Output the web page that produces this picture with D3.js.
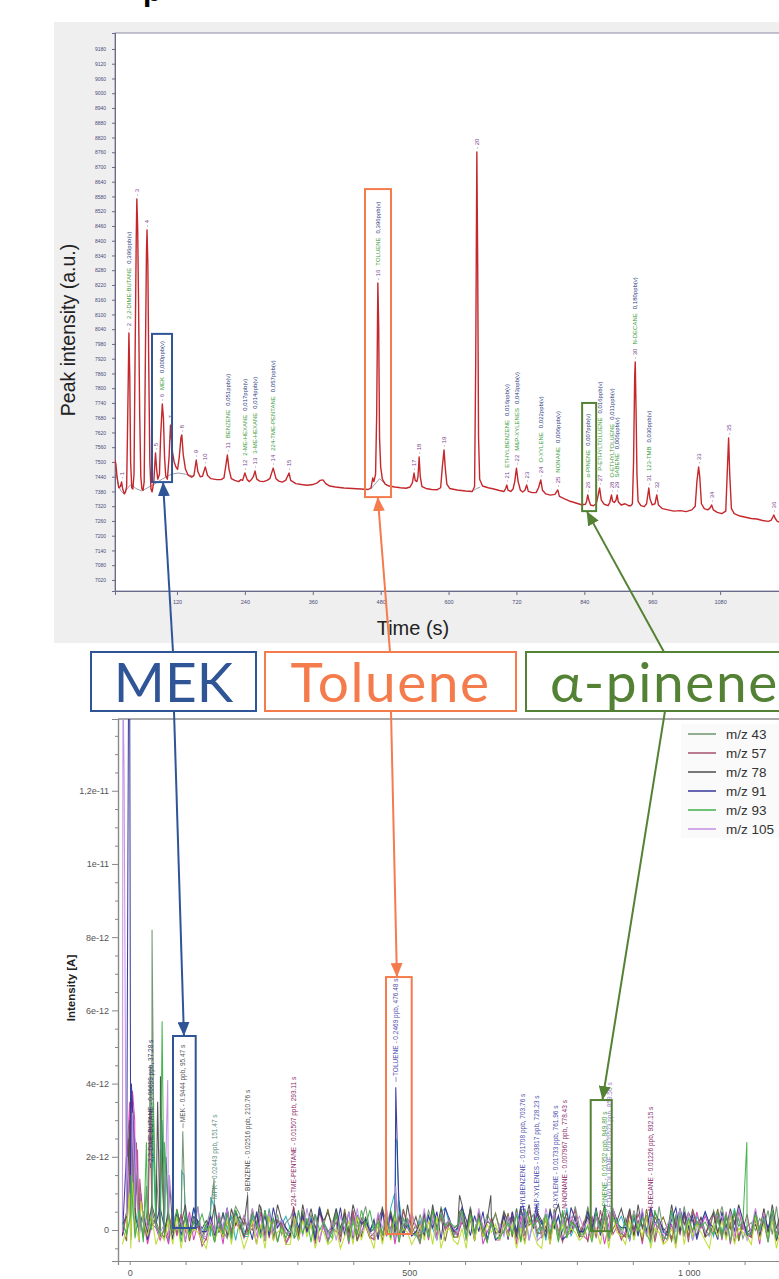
<!DOCTYPE html>
<html><head><meta charset="utf-8">
<script src="https://cdn.jsdelivr.net/npm/d3@7/dist/d3.min.js"></script>
<style>
html,body{margin:0;padding:0;background:#fff;}
svg{display:block;font-family:"Liberation Sans",Arial,sans-serif;}
</style></head>
<body>
<svg id="chart" width="779" height="1279"></svg>
<script>
// ================= DATA =================
// --- top chromatogram ---
const topYTicks=[7020,7080,7140,7200,7260,7320,7380,7440,7500,7560,7620,7680,7740,7800,7860,7920,7980,8040,8100,8160,8220,8280,8340,8400,8460,8520,8580,8640,8700,8760,8820,8880,8940,9000,9060,9120,9180];
const topXTicks=[120,240,360,480,600,720,840,960,1080];
const topTrace=[[10.4,7508],[12,7490],[14,7440],[17,7395],[20,7400],[22,7419],[24,7390],[27,7370],[29,7378],
[31,7400],[33,7700],[35,8025],[36.5,7850],[38,7500],[40,7395],[42,7390],
[44,7450],[46,7950],[48,8420],[49,8570],[50.5,8450],[52,8150],[54,7700],[56,7440],[58,7390],[60,7385],
[62,7420],[64,7900],[66,8350],[67,8444],[68.5,8300],[70,7900],[72,7500],[74,7390],[76,7378],
[79,7420],[82,7537],[84,7470],[86,7430],[89,7450],[91,7600],[94,7736],[96,7680],[98,7520],[100,7445],[103,7430],
[106,7520],[108.5,7650],[110,7600],[112,7540],[115,7500],[118,7480],[121,7470],
[124,7520],[127,7600],[128.5,7610],[131,7530],[135,7470],[140,7445],[146,7438],[150,7445],
[154,7508],[157,7460],[161,7440],[165,7442],[170,7480],[174,7445],[180,7432],[190,7428],[198,7428],
[203,7435],[206,7480],[209,7528],[212,7470],[216,7432],[222,7425],[229,7420],[233,7428],[236,7425],
[240,7455],[244,7428],[248,7420],[252,7430],[255,7440],[258,7463],[261,7430],[266,7422],[273,7420],[279,7425],[284,7432],
[290,7475],[295,7432],[300,7422],[306,7418],[312,7425],[315,7440],[318,7455],[321,7425],[330,7412],[340,7408],[350,7405],[360,7408],
[368,7415],[373,7425],[378,7427],[383,7412],[390,7402],[400,7398],[415,7394],[430,7392],[445,7390],[458,7388],
[463,7395],[466,7435],[468,7420],[471,7450],[473,7700],[475,8228],[476.5,8050],[478,7600],[480,7480],[483,7430],[488,7410],[495,7402],
[505,7398],[515,7395],[525,7393],[532,7398],[536,7415],[539,7455],[541,7425],[544,7420],[546,7440],[548,7520],[550,7440],[553,7400],
[560,7392],[570,7388],[580,7387],[586,7395],[589,7480],[592,7549],[594,7480],[597,7410],[602,7392],[615,7386],[630,7382],[642,7380],
[646,7400],[648,7900],[650,8761],[651.5,8300],[653,7600],[655,7430],[660,7402],[670,7395],[680,7390],[690,7384],[698,7380],
[701,7392],[703,7406],[705,7385],[710,7380],[714,7390],[717,7420],[720,7475],[723,7420],[727,7385],[731,7378],[735,7385],[738,7406],[741,7380],
[748,7375],[755,7376],[759,7395],[763,7427],[766,7385],[772,7370],[780,7365],[788,7368],[793,7386],[796,7360],[805,7350],
[815,7340],[825,7333],[835,7326],[842,7328],[844,7340],[846,7366],[848,7345],[851,7325],[856,7322],[861,7330],[864,7360],[867,7394],[870,7345],[875,7328],[882,7322],
[885,7335],[888,7366],[890,7340],[893,7335],[896,7345],[898,7366],[900,7338],[905,7325],[912,7330],[918,7322],[922,7322],[925,7330],
[927,7500],[929,7850],[930,7907],[931.5,7700],[933,7450],[935,7340],[940,7322],[946,7318],[950,7330],[954,7394],[956,7350],[960,7325],[965,7330],[968,7366],[971,7325],[978,7310],
[988,7305],[998,7300],[1010,7302],[1020,7298],[1030,7305],[1036,7320],[1039,7420],[1042,7480],[1044,7440],[1047,7330],[1052,7310],[1058,7305],
[1062,7312],[1065,7325],[1068,7305],[1075,7295],[1083,7290],[1090,7300],[1092,7420],[1095,7598],[1097,7450],[1100,7310],[1105,7290],
[1115,7280],[1125,7275],[1135,7270],[1145,7268],[1155,7262],[1165,7258],[1170,7262],[1173,7275],[1175,7284],[1177,7272],[1181,7258],[1190,7252],[1200,7248]];
const topBaselines=[
 [[12,7460],[16,7410],[20,7385],[26,7370],[33,7395],[40,7410],[47,7392],[58,7382],[68,7395],[80,7410],[95,7432],[110,7450],[122,7455],[135,7450],[150,7442]],
 [[462,7388],[470,7410],[478,7432],[486,7415],[492,7402]],
 [[645,7385],[650,7392],[656,7398]]
];
const peakTimes=[22,35,49,67,82,94,109,128,154,170,209,240,258,290,318,475,539,548,592,650,703,720,738,763,793,846,867,889,898,930,954,968,1042,1065,1095,1175];
const peakValues=[7419,8025,8570,8444,7537,7736,7650,7610,7508,7480,7528,7455,7463,7475,7455,8228,7455,7520,7549,8761,7406,7475,7406,7427,7386,7366,7394,7366,7366,7907,7394,7366,7480,7325,7598,7284];
const peakNames=["","2,2-DIME-BUTANE","","","","MEK","","","","","BENZENE","2-ME-HEXANE","3-ME-HEXANE","224-TME-PENTANE","","TOLUENE","","","","","ETHYLBENZENE","M&P-XYLENES","","O-XYLENE","NONANE","α-PINENE","P-ETHYLTOLUENE","O-ETHYLTOLUENE","SABENE","N-DECANE","123-TMB","","","","",""];
const peakConc=["","0,396ppb(v)","","","","0,000ppb(v)","","","","","0,051ppb(v)","0,017ppb(v)","0,014ppb(v)","0,057ppb(v)","","0,396ppb(v)","","","","","0,016ppb(v)","0,043ppb(v)","","0,022ppb(v)","0,006ppb(v)","0,007ppb(v)","0,016ppb(v)","0,011ppb(v)","0,006ppb(v)","0,180ppb(v)","0,030ppb(v)","","","","",""];

// --- bottom ion traces (values in units of 1e-12 A) ---
const botYTicks=[0,2,4,6,8,10,12];
const botYLabels=["0","2e-12","4e-12","6e-12","8e-12","1e-11","1,2e-11"];
const botYMinor=[-0.5,0.5,1,1.5,2.5,3,3.5,4.5,5,5.5,6.5,7,7.5,8.5,9,9.5,10.5,11,11.5,12.5,13,13.5];
const botXTicks=[0,100,200,300,400,500,600,700,800,900,1000,1100];
const botXLabels=["0","","","","","500","","","","","1 000",""];
const ionNames=["m/z 43","m/z 57","m/z 78","m/z 91","m/z 93","m/z 105","m/z 106","m/z 120","m/z 136","m/z 134"];
const ionColors=["#6e9470","#a5506f","#4d4d4d","#34349a","#3fb24a","#c28fe3","#27aebd","#b9dc2c","#d13fb4","#7b6a1f"];
const ionOffsets=[0.15,0.05,0.2,0.12,0.05,0.1,0.1,-0.12,0.0,0.08];
// baseline noise read as digits (0..9) every 7.5 s from -13 s
const noiseStart=-13, noiseStep=7.5, noiseUnit=0.11;
const ionNoise=[
"5273914862 3718462590 4826315973 2649381725 6138472950 3827164593 5192837464 2738519462 4619283757 3846192573 5728136494 2937461851 6384725193 4172938563 2859473614 5364829173",
"3847162953 6293817450 2718364952 5483927161 3927458163 4618293752 2836471958 5173928464 3649285173 4827361959 2538417693 6172948352 3948572161 4263819573 5837261948 2946183752",
"4618372951 2837491653 5392718464 3748162953 2619483757 4837295162 3584726193 6271938453 4938271562 2756184937 5183947262 3627491858 4819362753 2938475161 5726384952 3418293765",
"2947381659 4618273953 3726491852 5183729464 2847361953 4392817563 6183749252 3527481963 4962738151 2718394657 5384712963 3849261754 4172839563 2693847158 5418273962 3827461595",
"6382917453 2749183658 4517382963 3862947152 5293718464 2847163959 4638291753 3172948565 5928374162 2463819757 4837192653 3519482764 6284731952 2918374656 4372819563 3847192658",
"3719284653 5284617392 2638491757 4927183563 3582947162 6174829353 2849371658 4392718564 3817294652 5273849161 2948163757 4627381953 3184927562 5739281463 2467382951 4938172654",
"4829371652 3167482953 5293847162 2748193657 4618372951 3927481563 5482917363 2637418952 4819273654 3572948162 6184739252 2938471657 4172839563 3849261758 5283749162 2736481954",
"2617384925 3829174653 1736482951 4827193562 2938471652 3614829374 1827394652 4738291563 2619384757 3847162952 1928374653 4736281954 2837491652 3619284753 1748392654 2937481652",
"3928471652 5183749263 2847193658 4619382751 3728461952 5837192463 2493817653 4182739564 3857291462 2649183757 5718293463 3284716952 4937182653 2618374958 5482917363 3719482651",
"4173829563 2839471652 5618293747 3947182653 2738461959 4829371562 3617482953 5283947162 2947183658 4382917563 3719284652 5927381463 2846193757 4173829562 3592748163 2849371656"];
// peaks: [time s, intensity 1e-12 A]
const ionPeaks=[
 [[-3,1.5],[0,2.8],[4,2.2],[10,1.8],[30,1.2],[37,4.5],[40,8.2],[43,3.0],[48,1.5],[95,2.7],[151,1.4],[294,0.6]],
 [[-2,2.5],[2,3.6],[6,3.2],[12,2.4],[18,1.4],[37,3.3],[55,2.2],[293,0.65],[932,0.55]],
 [[0,3.0],[5,2.5],[12,1.5],[50,3.5],[55,4.2],[72,1.2],[211,0.95],[232,0.7],[590,0.95],[646,0.95],[762,0.5]],
 [[-6,2],[-2,15],[0,15],[3,4],[8,2.4],[65,2.0],[476,3.9],[480,1.5],[704,0.65],[728,0.7]],
 [[2,1.5],[30,2.4],[42,3.5],[58,5.7],[62,2.4],[850,0.6],[1104,2.4]],
 [[-12,15],[-10,12.5],[-7,3],[-4,2],[5,3.2],[10,2.5],[68,4.1],[71,1.5],[476,1.2],[860,0.45]],
 [[0,2.5],[8,2],[40,3],[58,3.0],[93,1.6],[97,1.5],[145,0.9],[474,1.0],[476,2.5],[478,2.4],[482,0.8]],
 [[0,1.0],[5,1.3],[20,0.8]],
 [[-4,2.2],[0,3.5],[5,3.8],[9,3.0],[14,2.2],[20,1.0]],
 [[0,2.0],[6,2.8],[12,1.5],[476,1.0],[590,0.5]]
];
// compound annotations of the lower chart
const annoTimes=[37.28,95.47,151.47,210.76,293.11,476.48,703.76,728.23,761.96,778.43,849.80,859.56,932.15];
const annoStart=[1.83,2.92,0.82,1.04,0.63,4.18,0.36,0.46,0.55,0.55,0.46,0.41,0.49];
const annoTexts=["2,2-DIME-BUTANE - 0.06699 ppb, 37.28 s","MEK - 0.9444 ppb, 95.47 s","MPK - 0.02443 ppb, 151.47 s","BENZENE - 0.02516 ppb, 210.76 s","224-TME-PENTANE - 0.01507 ppb, 293.11 s","TOLUENE - 0.2469 ppb, 476.48 s","ETHYLBENZENE - 0.01708 ppb, 703.76 s","M&P-XYLENES - 0.03817 ppb, 728.23 s","O-XYLENE - 0.01733 ppb, 761.96 s","N-NONANE - 0.007967 ppb, 778.43 s","α-PINENE - 0.01352 ppb, 849.80 s","P-ETHYLTOLUENE - 0.005523 ppb, 859.56 s","N-DECANE - 0.01226 ppb, 932.15 s"];
const annoColors=["#3a3a70","#555555","#5a8f80","#555555","#8b2d6b","#5050b0","#5050b0","#5050b0","#5050b0","#8b2d6b","#3aa03a","#a080d0","#8b2d6b"];

// highlighted compounds
const hiNames=["MEK","Toluene","α-pinene"];
const hiColors=["#2f5597","#f47b4c","#548235"];
const hiTopBox=[[75.8,111.2,7418,8021],[452.3,498.3,7357,8610],[836.1,860.9,7300,7740]];
const hiTopTip=[95.4,475,845];
const hiBotBox=[[77.5,118.1,0.055,5.30],[458.5,504.5,-0.11,6.91],[824.7,862.3,-0.03,3.55]];
const hiBotTip=[97,478,846];

// ================= DRAW =================
const W=779,H=1279;
const svg=d3.select("#chart");
const defs=svg.append("defs");

// cut-off title glyph at top (the reference shows only its lower part)
svg.append("text").attr("x",143).attr("y",1).attr("font-size",30).attr("font-weight","bold").attr("fill","#000").text("p");

// ---------- TOP PANEL ----------
const tL=115,tT=33,tB=591;
svg.append("rect").attr("x",54).attr("y",22).attr("width",W-54).attr("height",621).attr("fill","#efefef");
const tx=d3.scaleLinear().domain([10.4,1200]).range([tL,788]);
const ty=d3.scaleLinear().domain([6975,9245]).range([tB,tT]);
svg.append("rect").attr("x",tL).attr("y",tT).attr("width",W-tL+5).attr("height",tB-tT).attr("fill","#fff").attr("stroke","#8a8aa8").attr("stroke-width",1);
defs.append("clipPath").attr("id","clipTop").append("rect").attr("x",tL).attr("y",tT).attr("width",W-tL).attr("height",tB-tT);

const gyA=svg.append("g").attr("transform",`translate(${tL},0)`)
 .call(d3.axisLeft(ty).tickValues(topYTicks).tickSize(3).tickPadding(6).tickFormat(d=>d));
gyA.select(".domain").attr("stroke","#6a6a8a");
gyA.selectAll(".tick line").attr("stroke","#6a6a8a");
gyA.selectAll(".tick text").attr("font-size",5).attr("fill","#4a4a78").attr("font-family","Liberation Sans, Arial");
const gxA=svg.append("g").attr("transform",`translate(0,${tB})`)
 .call(d3.axisBottom(tx).tickValues(topXTicks).tickSize(4).tickPadding(5).tickFormat(d=>d));
gxA.select(".domain").attr("stroke","#6a6a8a");
gxA.selectAll(".tick line").attr("stroke","#6a6a8a");
gxA.selectAll(".tick text").attr("font-size",5.5).attr("fill","#4a4a78").attr("font-family","Liberation Sans, Arial");

svg.append("text").attr("transform","translate(75,330) rotate(-90)").attr("text-anchor","middle")
 .attr("font-size",19.5).attr("fill","#222").text("Peak intensity (a.u.)");
svg.append("text").attr("x",413).attr("y",635).attr("text-anchor","middle")
 .attr("font-size",20).attr("fill","#222").text("Time (s)");

const gTop=svg.append("g").attr("clip-path","url(#clipTop)");
const tLine=d3.line().x(d=>tx(d[0])).y(d=>ty(d[1]));
topBaselines.forEach(b=>gTop.append("path").attr("d",tLine(b)).attr("fill","none").attr("stroke","#9a9aa8").attr("stroke-width",1));
gTop.append("path").attr("d",tLine(topTrace)).attr("fill","none").attr("stroke","#c4282d").attr("stroke-width",1.4).attr("stroke-linejoin","round");

const gLab=gTop.append("g").attr("font-size",6).attr("font-family","Liberation Sans, Arial");
peakTimes.forEach((t,i)=>{
  const x=tx(t)+2.2, y=ty(peakValues[i])-3;
  const el=gLab.append("text").attr("transform",`translate(${x},${y}) rotate(-90)`);
  el.append("tspan").attr("fill","#7b3f8f").text("- "+(i+1));
  if(peakNames[i]){
    el.append("tspan").attr("dx",4).attr("fill","#3c9a3c").text(peakNames[i]);
    el.append("tspan").attr("dx",4).attr("fill","#2b3a80").text(peakConc[i]);
  }
});

// ---------- BOTTOM PANEL ----------
const bL=118,bT=719,bB=1261;
const bx=d3.scaleLinear().domain([-20.9,1200]).range([bL,800.5]);
const by=d3.scaleLinear().domain([-0.847,13.96]).range([bB,bT]);
defs.append("clipPath").attr("id","clipBot").append("rect").attr("x",bL).attr("y",bT).attr("width",W-bL).attr("height",bB-bT);
svg.append("line").attr("x1",bL).attr("x2",W).attr("y1",bT).attr("y2",bT).attr("stroke","#aaaaaa").attr("stroke-width",2);

const gyB=svg.append("g").attr("transform",`translate(${bL},0)`);
gyB.call(d3.axisLeft(by).tickValues(botYMinor).tickSize(3).tickFormat(""));
gyB.append("g").call(d3.axisLeft(by).tickValues(botYTicks).tickSize(6).tickPadding(3).tickFormat((d,i)=>botYLabels[i]));
gyB.selectAll(".domain").attr("stroke","#888").attr("stroke-width",1.2);
gyB.selectAll(".tick line").attr("stroke","#888");
gyB.selectAll(".tick text").attr("font-size",9).attr("fill","#555").attr("font-family","Liberation Sans, Arial");
const gxB=svg.append("g").attr("transform",`translate(0,${bB})`)
 .call(d3.axisBottom(bx).tickValues(botXTicks).tickSize(4).tickPadding(5).tickFormat((d,i)=>botXLabels[i]));
gxB.select(".domain").attr("stroke","#888").attr("stroke-width",1.2);
gxB.selectAll(".tick line").attr("stroke","#888");
gxB.selectAll(".tick text").attr("font-size",9).attr("fill","#555").attr("font-family","Liberation Sans, Arial");

svg.append("text").attr("transform","translate(75,988) rotate(-90)").attr("text-anchor","middle")
 .attr("font-size",11.5).attr("font-weight","bold").attr("fill","#222").text("Intensity [A]");

const gBot=svg.append("g").attr("clip-path","url(#clipBot)");
const bLine=d3.line().x(d=>bx(d[0])).y(d=>by(d[1]));
const order=[6,8,9,0,1,2,3,5,7,4];
order.forEach(k=>{
  const digits=ionNoise[k].replace(/ /g,"").split("");
  const pts=digits.map((c,i)=>[noiseStart+i*noiseStep, ionOffsets[k]+(+c-4.5)*noiseUnit]);
  const all=pts.concat(ionPeaks[k]).sort((a,b)=>a[0]-b[0]);
  gBot.append("path").attr("d",bLine(all)).attr("fill","none").attr("stroke",ionColors[k]).attr("stroke-width",1.05).attr("stroke-opacity",0.95);
});

const gAn=gBot.append("g").attr("font-size",6.5).attr("font-family","Liberation Sans, Arial");
annoTimes.forEach((t,i)=>{
  const x=bx(t)+2.3, y=by(annoStart[i]);
  gAn.append("line").attr("x1",bx(t)).attr("x2",bx(t)).attr("y1",y+5).attr("y2",y).attr("stroke",annoColors[i]).attr("stroke-width",0.6);
  gAn.append("text").attr("transform",`translate(${x},${y-1}) rotate(-90)`).attr("fill",annoColors[i]).text(annoTexts[i]);
});

// legend
const gLeg=svg.append("g");
gLeg.append("rect").attr("x",681).attr("y",724).attr("width",W-681).attr("height",114).attr("fill","#fafafa");
ionNames.slice(0,6).forEach((n,i)=>{
  const y=734+i*19;
  gLeg.append("line").attr("x1",688).attr("x2",716).attr("y1",y).attr("y2",y).attr("stroke",ionColors[i]).attr("stroke-width",1.5);
  gLeg.append("text").attr("x",726).attr("y",y+5).attr("font-size",13.5).attr("fill","#333").text(n);
});

// ---------- HIGHLIGHT BOXES, LABELS AND ARROWS ----------
const labelBoxes=[[91,652,165,59],[265,652,251,59],[526,652,262,59]];
const arrowX=[173,390,664];
const labelSpacing=[0,1.5,1.6];
hiColors.forEach((c,i)=>{
  defs.append("marker").attr("id","ah"+i).attr("viewBox","0 0 14 12").attr("refX",13).attr("refY",6)
    .attr("markerWidth",14).attr("markerHeight",12).attr("markerUnits","userSpaceOnUse").attr("orient","auto")
    .append("path").attr("d","M0,0 L14,6 L0,12 z").attr("fill",c);
  const tb=hiTopBox[i], bb=hiBotBox[i];
  svg.append("rect").attr("x",tx(tb[0])).attr("y",ty(tb[3])).attr("width",tx(tb[1])-tx(tb[0])).attr("height",ty(tb[2])-ty(tb[3]))
    .attr("fill","none").attr("stroke",c).attr("stroke-width",2);
  svg.append("rect").attr("x",bx(bb[0])).attr("y",by(bb[3])).attr("width",bx(bb[1])-bx(bb[0])).attr("height",by(bb[2])-by(bb[3]))
    .attr("fill","none").attr("stroke",c).attr("stroke-width",2);
  const lb=labelBoxes[i];
  svg.append("line").attr("x1",arrowX[i]).attr("y1",lb[1]).attr("x2",tx(hiTopTip[i])).attr("y2",ty(tb[2])+1)
    .attr("stroke",c).attr("stroke-width",2).attr("marker-end",`url(#ah${i})`);
  svg.append("line").attr("x1",arrowX[i]+1).attr("y1",lb[1]+lb[3]).attr("x2",bx(hiBotTip[i])).attr("y2",by(bb[3])-1)
    .attr("stroke",c).attr("stroke-width",2).attr("marker-end",`url(#ah${i})`);
  svg.append("rect").attr("x",lb[0]).attr("y",lb[1]).attr("width",lb[2]).attr("height",lb[3])
    .attr("fill","#fff").attr("stroke",c).attr("stroke-width",2);
  svg.append("text").attr("x",i===2?550:lb[0]+lb[2]/2).attr("y",702).attr("text-anchor",i===2?"start":"middle")
    .attr("letter-spacing",labelSpacing[i])
    .attr("font-family","Lato, 'Open Sans', sans-serif").attr("font-size",55).attr("fill",c).text(hiNames[i]);
});
</script>
</body></html>
